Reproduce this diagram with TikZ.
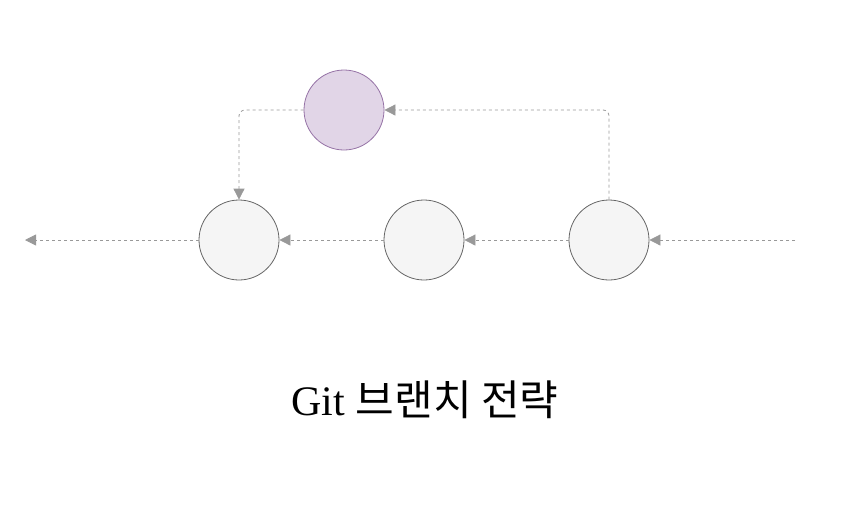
\documentclass[tikz,border=0pt]{standalone}
\usepackage{fontspec}
\setmainfont{Liberation Serif}
\newfontfamily\kofont{Noto Sans CJK KR}
\usepackage{tikz}
\usetikzlibrary{positioning, arrows.meta}

\definecolor{commitfill}{HTML}{F5F5F5}
\definecolor{commitline}{HTML}{666666}
\definecolor{branchfill}{HTML}{E1D5E7}
\definecolor{branchline}{HTML}{9673A6}
\definecolor{linkgray}{HTML}{999999}

\begin{document}
\begin{tikzpicture}[x=1pt, y=-1pt,
    commit/.style={circle, draw=commitline, fill=commitfill, line width=0.8pt, minimum size=80pt, inner sep=0pt},
    branch/.style={circle, draw=branchline, fill=branchfill, line width=0.8pt, minimum size=80pt, inner sep=0pt},
    link/.style={-{Triangle[length=11pt, width=11pt, fill=linkgray]}, draw=linkgray, line width=0.8pt, dash pattern=on 3pt off 3pt},
    title/.style={font=\fontsize{42}{50}\selectfont}
]
    \useasboundingbox (0,0) rectangle (850,531);

    % Commits
    \node[commit] (cA) at (239, 240) {};
    \node[commit] (cB) at (424, 240) {};
    \node[commit] (cC) at (609, 240) {};
    \node[branch] (feat) at (344, 110) {};

    % Ends of the line
    \coordinate (tail) at (25, 240);
    \coordinate (head) at (795, 240);

    % Main line
    \draw[link] (head) -- (cC.east);
    \draw[link] (cC.west) -- (cB.east);
    \draw[link] (cB.west) -- (cA.east);
    \draw[link] (cA.west) -- (tail);

    % Branch
    \draw[link, rounded corners=6pt] (cC.north) |- (feat.east);
    \draw[link, rounded corners=6pt] (feat.west) -| (cA.north);

    % Title
    \node[title] (caption) at (425, 400) {Git {\kofont 브랜치 전략}};

\end{tikzpicture}
\end{document}
